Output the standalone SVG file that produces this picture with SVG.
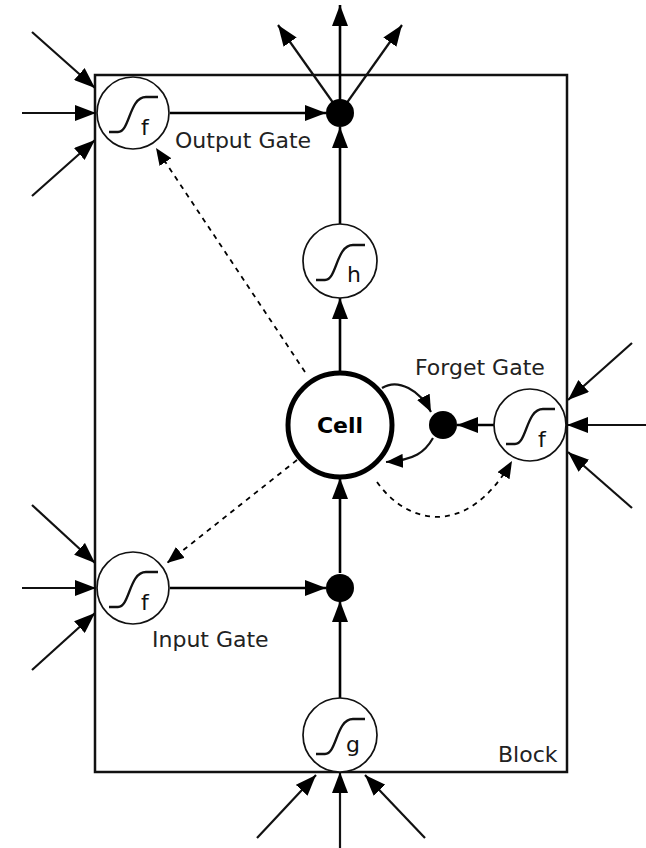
<svg xmlns="http://www.w3.org/2000/svg" xmlns:xlink="http://www.w3.org/1999/xlink" width="646" height="848" viewBox="0 0 646 848">
<style>
.bg{fill:#fff}
.blk{fill:none;stroke:#111;stroke-width:2.5}
.c{stroke:#000;stroke-width:2.6;fill:none}
.in{stroke:#111;stroke-width:2.2;fill:none}
.d{stroke:#000;stroke-width:1.8;fill:none;stroke-dasharray:5,5}
.gate{fill:#fff;stroke:#111;stroke-width:1.7}
.cell{fill:#fff;stroke:#000;stroke-width:5}
.dot{fill:#000}
.sig{fill:none;stroke:#111;stroke-width:2.3}
.lbl{font-family:"DejaVu Sans",sans-serif;font-size:22px;fill:#222}
.sub{font-family:"DejaVu Sans",sans-serif;font-size:22px;fill:#111}
.cl{font-family:"DejaVu Sans",sans-serif;font-size:22px;font-weight:bold;fill:#000;text-anchor:middle}
</style>
<defs>
<marker id="a" markerUnits="userSpaceOnUse" markerWidth="21" markerHeight="16" refX="21" refY="8" orient="auto"><path d="M0,0 L21,8 L0,16 z" fill="#000"/></marker>
<marker id="s" markerUnits="userSpaceOnUse" markerWidth="17" markerHeight="14" refX="17" refY="7" orient="auto"><path d="M0,0 L17,7 L0,14 z" fill="#000"/></marker>
<path id="sg" class="sig" d="M-24,19 H-15 C-3,19 -4,-16 13,-16 H25"/>
</defs>
<rect class="bg" width="646" height="848"/>
<g id="block">
<rect class="blk" x="95" y="75" width="472" height="697"/>
<text class="lbl" x="498" y="762">Block</text>
</g>
<g id="connectors">
<line class="in" x1="22" y1="113" x2="96" y2="113" marker-end="url(#a)"/>
<line class="in" x1="32" y1="32" x2="95" y2="88" marker-end="url(#a)"/>
<line class="in" x1="32" y1="196" x2="95" y2="140" marker-end="url(#a)"/>
<line class="c" x1="170" y1="113" x2="326" y2="113" marker-end="url(#a)"/>
<line class="c" x1="340" y1="100" x2="340" y2="5" marker-end="url(#a)"/>
<line class="in" x1="334" y1="104" x2="278" y2="25" marker-end="url(#a)"/>
<line class="in" x1="346" y1="104" x2="402" y2="25" marker-end="url(#a)"/>
<line class="c" x1="340" y1="224" x2="340" y2="127" marker-end="url(#a)"/>
<line class="c" x1="340" y1="373" x2="340" y2="298" marker-end="url(#a)"/>
<line class="c" x1="340" y1="573" x2="340" y2="478" marker-end="url(#a)"/>
<line class="c" x1="340" y1="698" x2="340" y2="601" marker-end="url(#a)"/>
<line class="in" x1="340" y1="848" x2="340" y2="772" marker-end="url(#a)"/>
<line class="in" x1="257" y1="838" x2="316" y2="775" marker-end="url(#a)"/>
<line class="in" x1="425" y1="838" x2="365" y2="775" marker-end="url(#a)"/>
<line class="in" x1="22" y1="588" x2="96" y2="588" marker-end="url(#a)"/>
<line class="in" x1="32" y1="505" x2="95" y2="563" marker-end="url(#a)"/>
<line class="in" x1="32" y1="670" x2="95" y2="613" marker-end="url(#a)"/>
<line class="c" x1="170" y1="588" x2="326" y2="588" marker-end="url(#a)"/>
<line class="in" x1="646" y1="425" x2="567" y2="425" marker-end="url(#a)"/>
<line class="in" x1="632" y1="343" x2="568" y2="400" marker-end="url(#a)"/>
<line class="in" x1="632" y1="508" x2="568" y2="452" marker-end="url(#a)"/>
<line class="c" x1="494" y1="425" x2="457" y2="425" marker-end="url(#a)"/>
<path class="in" d="M382,388 C398,378 420,390 431,412" marker-end="url(#s)"/>
<path class="in" d="M433,438 C425,452 415,460 386,462" marker-end="url(#s)"/>
<path class="d" d="M377,482 C405,522 465,542 512,461" marker-end="url(#s)"/>
<line class="d" x1="305" y1="372" x2="156" y2="148" marker-end="url(#s)"/>
<line class="d" x1="297" y1="460" x2="167" y2="563" marker-end="url(#s)"/>
</g>
<g id="output-gate">
<circle class="gate" cx="133" cy="113" r="36"/>
<use xlink:href="#sg" href="#sg" x="133" y="113"/>
<text class="sub" x="141" y="135">f</text>
<text class="lbl" x="175" y="148">Output Gate</text>
</g>
<g id="output-mult"><circle class="dot" cx="340" cy="113" r="14"/></g>
<g id="h-squash">
<circle class="gate" cx="340" cy="261" r="37"/>
<use xlink:href="#sg" href="#sg" x="340" y="261"/>
<text class="sub" x="347" y="282">h</text>
</g>
<g id="cell">
<circle class="cell" cx="340" cy="425" r="52"/>
<text class="cl" x="340" y="433">Cell</text>
</g>
<g id="forget-mult"><circle class="dot" cx="443" cy="425" r="14"/></g>
<g id="forget-gate">
<circle class="gate" cx="530" cy="425" r="36"/>
<use xlink:href="#sg" href="#sg" x="530" y="425"/>
<text class="sub" x="538" y="447">f</text>
<text class="lbl" x="415" y="375">Forget Gate</text>
</g>
<g id="input-gate">
<circle class="gate" cx="133" cy="588" r="36"/>
<use xlink:href="#sg" href="#sg" x="133" y="588"/>
<text class="sub" x="141" y="610">f</text>
<text class="lbl" x="152" y="647">Input Gate</text>
</g>
<g id="input-mult"><circle class="dot" cx="340" cy="588" r="14"/></g>
<g id="g-squash">
<circle class="gate" cx="340" cy="735" r="37"/>
<use xlink:href="#sg" href="#sg" x="340" y="735"/>
<text class="sub" x="346" y="752">g</text>
</g>
</svg>
